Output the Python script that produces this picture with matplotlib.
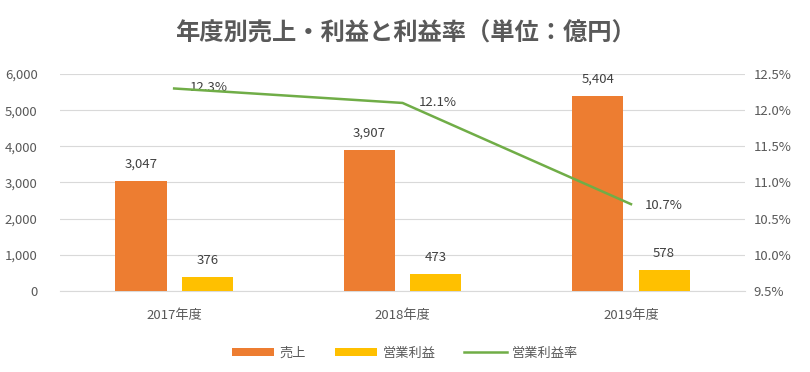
import matplotlib
matplotlib.use("Agg")
import matplotlib.pyplot as plt
import numpy as np
from matplotlib.ticker import FuncFormatter, MultipleLocator

plt.rcParams['font.family'] = ['Noto Sans CJK JP', 'DejaVu Sans']

categories = ["2017年度", "2018年度", "2019年度"]
sales = [3047, 3907, 5404]
profit = [376, 473, 578]
margin = [12.3, 12.1, 10.7]

TXT = "#595959"
fig = plt.figure(figsize=(8.1, 3.72), dpi=100)
ax = fig.add_axes([0.074, 0.218, 0.846, 0.583])
x = np.arange(len(categories))
w = 0.224
b1 = ax.bar(x - 0.145, sales, w, color="#ED7D31", label="売上", zorder=3)
b2 = ax.bar(x + 0.145, profit, w, color="#FFC000", label="営業利益", zorder=3)
for xi, v in zip(x, sales):
    ax.text(xi - 0.145, v + 280, f"{v:,}", ha="center", va="bottom", fontsize=9.5, color="#404040")
for xi, v in zip(x, profit):
    ax.text(xi + 0.145, v + 280, f"{v:,}", ha="center", va="bottom", fontsize=9.5, color="#404040")

ax.set_xlim(-0.5, 2.5)
ax.set_ylim(0, 6000)
ax.yaxis.set_major_locator(MultipleLocator(1000))
ax.yaxis.set_major_formatter(FuncFormatter(lambda v, p: f"{int(v):,}"))
ax.set_xticks(x)
ax.set_xticklabels(categories)
ax.grid(axis="y", color="#d9d9d9", linewidth=0.8, zorder=0)
for s in ax.spines.values():
    s.set_visible(False)
ax.spines["bottom"].set_visible(True)
ax.spines["bottom"].set_color("#d9d9d9")
ax.tick_params(length=0, colors=TXT, labelsize=9.5)
ax.tick_params(axis="y", pad=16)
ax.tick_params(axis="x", pad=13)

ax2 = ax.twinx()
ax2.set_ylim(9.5, 12.5)
ax2.yaxis.set_major_locator(MultipleLocator(0.5))
ax2.yaxis.set_major_formatter(FuncFormatter(lambda v, p: f"{v:.1f}%"))
l, = ax2.plot(x, margin, color="#70AD47", linewidth=1.8, label="営業利益率", zorder=4)
for s in ax2.spines.values():
    s.set_visible(False)
ax2.tick_params(length=0, colors=TXT, labelsize=9.5, pad=6)
offs = [(0.07, 0.02), (0.07, 0.0), (0.06, -0.02)]
for xi, v, (dx, dy) in zip(x, margin, offs):
    ax2.text(xi + dx, v + dy, f"{v:.1f}%", ha="left", va="center", fontsize=9.5, color="#404040")

fig.text(0.5, 0.911, "年度別売上・利益と利益率（単位：億円）", ha="center", va="center",
         fontsize=17.5, fontweight="bold", color=TXT)
fig.legend(handles=[b1, b2, l], loc="center", bbox_to_anchor=(0.5, 0.05), ncol=3,
           frameon=False, fontsize=9.5, labelcolor=TXT, handlelength=3.2, handleheight=0.6,
           columnspacing=2.2, handletextpad=0.4)
fig.savefig("out.png", dpi=100)
